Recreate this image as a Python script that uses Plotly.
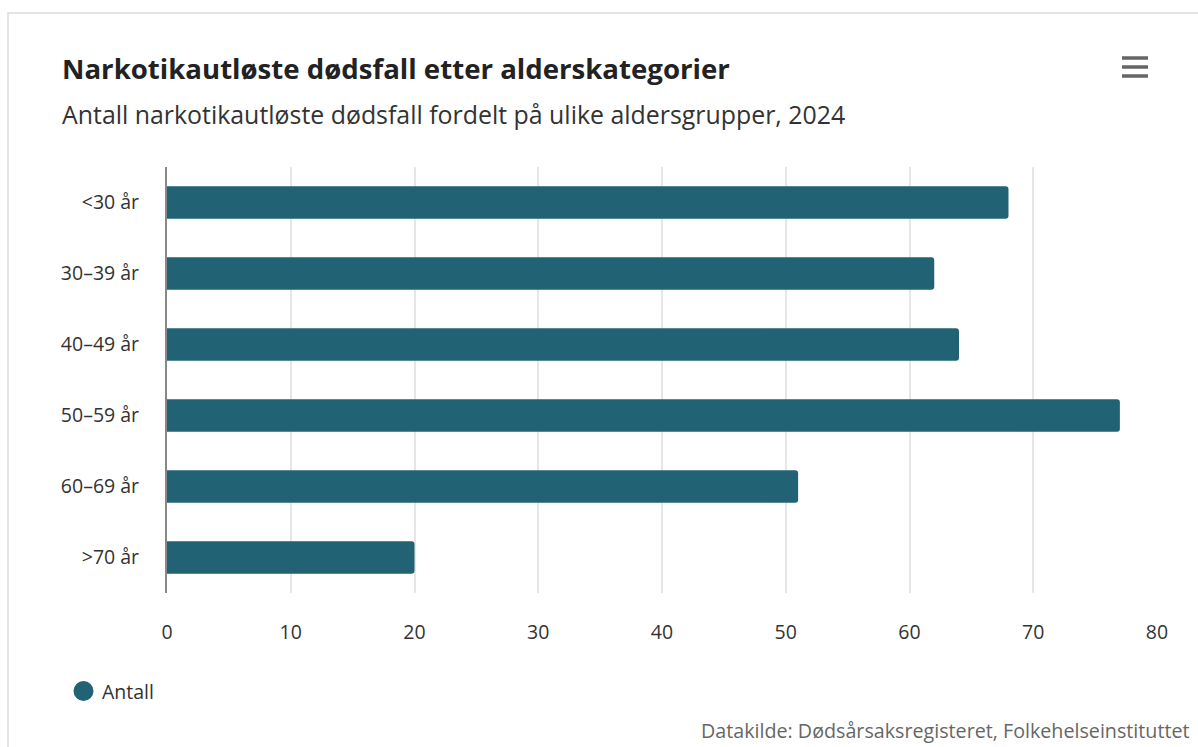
import plotly.graph_objects as go

# Drug-induced deaths in 2024 by age group
age_groups = ["<30 år", "30–39 år", "40–49 år", "50–59 år", "60–69 år", ">70 år"]
deaths = [68, 62, 64, 77, 51, 20]
x_ticks = [0, 10, 20, 30, 40, 50, 60, 70, 80]

W, H = 1198, 747
L, R, T, B = 167, 41, 167, 154
PW, PH = W - L - R, H - T - B

BAR_COLOR = "#216375"
FONT = "Open Sans"


def px(x):
    return (x - L) / PW


def py(y):
    return (H - B - y) / PH


fig = go.Figure()
fig.add_trace(go.Bar(
    x=deaths,
    y=age_groups,
    orientation="h",
    name="Antall",
    width=0.46,
    marker=dict(color=BAR_COLOR, cornerradius=3, line=dict(width=0)),
    showlegend=False,
    hovertemplate="%{y}: %{x}<extra></extra>",
))

shapes = []
# card border (top and left edges visible)
shapes.append(dict(type="rect", xref="paper", yref="paper",
                   x0=px(8), x1=px(1230), y0=py(780), y1=py(13),
                   line=dict(color="#dcdcdc", width=1.5), fillcolor="rgba(0,0,0,0)",
                   layer="below"))
# menu icon
for yy in (58, 67, 76):
    shapes.append(dict(type="line", xref="paper", yref="paper",
                       x0=px(1122), x1=px(1148), y0=py(yy), y1=py(yy),
                       line=dict(color="#666666", width=3.5)))
# legend marker
shapes.append(dict(type="circle", xref="paper", yref="paper",
                   x0=px(73.5), x1=px(93.5), y0=py(701), y1=py(681),
                   fillcolor=BAR_COLOR, line=dict(width=0)))

annotations = [
    dict(text="<b>Narkotikautløste dødsfall etter alderskategorier</b>",
         xref="paper", yref="paper", x=px(60), y=py(68),
         xanchor="left", yanchor="middle", showarrow=False,
         font=dict(family=FONT, size=27.6, color="#222222")),
    dict(text="Antall narkotikautløste dødsfall fordelt på ulike aldersgrupper, 2024",
         xref="paper", yref="paper", x=px(60), y=py(114),
         xanchor="left", yanchor="middle", showarrow=False,
         font=dict(family=FONT, size=24.9, color="#333333")),
    dict(text="Antall",
         xref="paper", yref="paper", x=px(100), y=py(691),
         xanchor="left", yanchor="middle", showarrow=False,
         font=dict(family=FONT, size=19.5, color="#333333")),
    dict(text="Datakilde: Dødsårsaksregisteret, Folkehelseinstituttet",
         xref="paper", yref="paper", x=px(1192), y=py(730),
         xanchor="right", yanchor="middle", showarrow=False,
         font=dict(family=FONT, size=19.7, color="#666666")),
]

fig.update_layout(
    width=W, height=H,
    margin=dict(l=L, r=R, t=T, b=B, pad=0),
    paper_bgcolor="white",
    plot_bgcolor="white",
    font=dict(family=FONT, color="#333333"),
    shapes=shapes,
    annotations=annotations,
    bargap=0.54,
    xaxis=dict(
        range=[0, 80],
        tickvals=x_ticks,
        showgrid=True, gridcolor="#e6e6e6", gridwidth=1.5,
        zeroline=False, showline=False,
        ticks="outside", ticklen=22, tickcolor="rgba(0,0,0,0)",
        tickfont=dict(family=FONT, size=19.5, color="#333333"),
        fixedrange=True,
    ),
    yaxis=dict(
        autorange="reversed",
        showgrid=False, zeroline=False,
        showline=True, linecolor="#888888", linewidth=2,
        ticks="outside", ticklen=22, tickcolor="rgba(0,0,0,0)",
        tickfont=dict(family=FONT, size=19.5, color="#333333"),
        fixedrange=True,
    ),
)

fig.write_html("out.html", config={"displayModeBar": False})
